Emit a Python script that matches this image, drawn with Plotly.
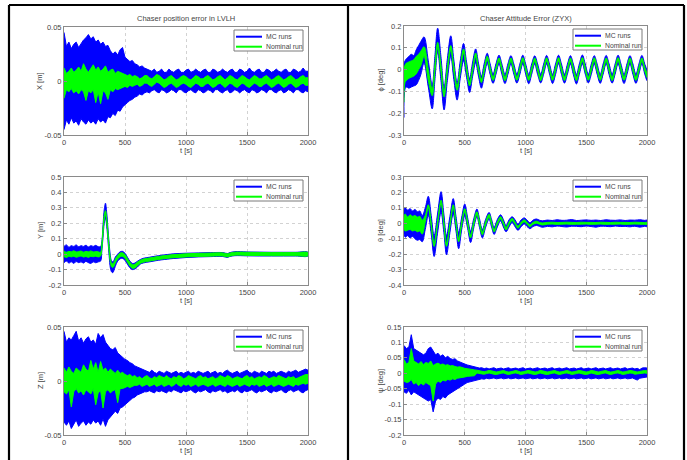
import plotly.graph_objects as go

# ---------------- data ----------------
T_TICKS = [0, 500, 1000, 1500, 2000]
T_TICK_TEXT = ["0", "500", "1000", "1500", "2000"]

# common 20 s time grid used by X, Z and psi
t20 = list(range(0, 2001, 20))

# --- X [m] ---
x_mc_hi = [0.045, 0.032, 0.036, 0.030, 0.034, 0.036, 0.031, 0.035, 0.038, 0.040,
           0.043, 0.039, 0.041, 0.036, 0.038, 0.034, 0.036, 0.032, 0.033, 0.028,
           0.025, 0.027, 0.024, 0.029, 0.031, 0.022, 0.020, 0.018, 0.019, 0.016,
           0.015, 0.013, 0.014, 0.012, 0.011, 0.010, 0.009, 0.011, 0.008, 0.009,
           0.011, 0.008, 0.008, 0.011, 0.009, 0.008, 0.010, 0.011, 0.008, 0.008,
           0.010, 0.011, 0.008, 0.009, 0.011, 0.009, 0.008, 0.010, 0.011, 0.008,
           0.008, 0.011, 0.010, 0.008, 0.009, 0.011, 0.009, 0.008, 0.010, 0.011,
           0.008, 0.008, 0.011, 0.010, 0.008, 0.009, 0.012, 0.009, 0.008, 0.010,
           0.011, 0.008, 0.008, 0.011, 0.010, 0.008, 0.009, 0.011, 0.009, 0.008,
           0.010, 0.011, 0.008, 0.008, 0.011, 0.010, 0.008, 0.009, 0.012, 0.009,
           0.009]
x_mc_lo = [-0.045, -0.036, -0.040, -0.034, -0.039, -0.037, -0.041, -0.035, -0.038, -0.040,
           -0.036, -0.039, -0.037, -0.040, -0.035, -0.038, -0.036, -0.039, -0.033, -0.034,
           -0.030, -0.032, -0.027, -0.028, -0.024, -0.022, -0.020, -0.018, -0.017, -0.015,
           -0.014, -0.012, -0.013, -0.011, -0.010, -0.011, -0.009, -0.008, -0.010, -0.011,
           -0.008, -0.009, -0.011, -0.010, -0.008, -0.009, -0.011, -0.008, -0.008, -0.010,
           -0.011, -0.009, -0.008, -0.010, -0.011, -0.008, -0.009, -0.011, -0.010, -0.008,
           -0.009, -0.011, -0.008, -0.008, -0.010, -0.011, -0.009, -0.008, -0.011, -0.010,
           -0.008, -0.009, -0.011, -0.009, -0.008, -0.010, -0.011, -0.008, -0.009, -0.011,
           -0.010, -0.008, -0.009, -0.011, -0.008, -0.008, -0.010, -0.011, -0.009, -0.008,
           -0.011, -0.010, -0.008, -0.009, -0.011, -0.008, -0.008, -0.010, -0.011, -0.009,
           -0.010]
x_nom_hi = [0.012, 0.007, 0.009, 0.012, 0.008, 0.010, 0.013, 0.009, 0.016, 0.011,
            0.008, 0.012, 0.015, 0.010, 0.013, 0.009, 0.011, 0.014, 0.008, 0.010,
            0.011, 0.007, 0.009, 0.008, 0.007, 0.006, 0.005, 0.006, 0.004, 0.005,
            0.004, 0.002, 0.003, 0.005, 0.005, 0.003, 0.002, 0.004, 0.006, 0.005,
            0.003, 0.001, 0.002, 0.004, 0.005, 0.003, 0.001, 0.002, 0.004, 0.005,
            0.004, 0.002, 0.001, 0.003, 0.005, 0.004, 0.002, 0.002, 0.004, 0.005,
            0.003, 0.001, 0.002, 0.004, 0.005, 0.003, 0.001, 0.003, 0.005, 0.004,
            0.002, 0.001, 0.003, 0.005, 0.004, 0.002, 0.001, 0.003, 0.005, 0.004,
            0.002, 0.002, 0.004, 0.005, 0.003, 0.001, 0.002, 0.004, 0.005, 0.003,
            0.001, 0.002, 0.004, 0.005, 0.003, 0.001, 0.002, 0.004, 0.005, 0.003,
            0.003]
x_nom_lo = [-0.016, -0.008, -0.010, -0.007, -0.011, -0.009, -0.012, -0.008, -0.010, -0.018,
            -0.009, -0.011, -0.008, -0.020, -0.010, -0.021, -0.009, -0.011, -0.017, -0.008,
            -0.010, -0.007, -0.008, -0.007, -0.006, -0.005, -0.006, -0.004, -0.005, -0.004,
            -0.003, -0.005, -0.004, -0.002, -0.002, -0.004, -0.005, -0.003, -0.001, -0.002,
            -0.004, -0.006, -0.005, -0.003, -0.002, -0.004, -0.006, -0.005, -0.003, -0.002,
            -0.003, -0.005, -0.006, -0.004, -0.002, -0.003, -0.005, -0.005, -0.003, -0.002,
            -0.004, -0.006, -0.005, -0.003, -0.002, -0.004, -0.006, -0.004, -0.002, -0.003,
            -0.005, -0.006, -0.004, -0.002, -0.003, -0.005, -0.006, -0.004, -0.002, -0.003,
            -0.005, -0.005, -0.003, -0.002, -0.004, -0.006, -0.005, -0.003, -0.002, -0.004,
            -0.006, -0.005, -0.003, -0.002, -0.004, -0.006, -0.005, -0.003, -0.002, -0.004,
            -0.004]

# --- Y [m] (non-uniform time grid around the transient) ---
t_y = [0, 20, 40, 60, 80, 100, 120, 140, 160, 180, 200, 220, 240, 260, 280, 300,
       310, 320, 330, 340, 350, 360, 370, 380, 390, 400, 410, 420,
       440, 460, 480, 500, 520, 540, 560, 580, 600,
       625, 650, 700, 750, 800, 900, 1000, 1100, 1200, 1300, 1340, 1360, 1400,
       1500, 1600, 1700, 1800, 1900, 2000]
y_mc_hi = [0.05, 0.06, 0.045, 0.055, 0.05, 0.06, 0.048, 0.055, 0.05, 0.058, 0.047, 0.055, 0.05, 0.057, 0.048, 0.05,
           0.08, 0.19, 0.29, 0.33, 0.27, 0.17, 0.07, -0.01, -0.045, -0.05, -0.04, -0.02,
           0.0, 0.015, 0.018, 0.005, -0.02, -0.045, -0.06, -0.058, -0.047,
           -0.035, -0.027, -0.02, -0.013, -0.007, 0.002, 0.006, 0.008, 0.01, 0.01, 0.004, 0.01, 0.016,
           0.014, 0.013, 0.012, 0.012, 0.012, 0.012]
y_mc_lo = [-0.055, -0.045, -0.058, -0.05, -0.06, -0.048, -0.055, -0.05, -0.058, -0.047, -0.055, -0.06, -0.05, -0.056, -0.05, -0.045,
           0.02, 0.11, 0.2, 0.23, 0.18, 0.09, -0.01, -0.09, -0.115, -0.12, -0.105, -0.08,
           -0.045, -0.03, -0.028, -0.04, -0.065, -0.088, -0.1, -0.097, -0.085,
           -0.065, -0.057, -0.05, -0.043, -0.037, -0.028, -0.022, -0.018, -0.016, -0.015, -0.021, -0.015, -0.01,
           -0.011, -0.012, -0.012, -0.012, -0.012, -0.012]
y_nom_hi = [0.02, 0.012, 0.018, 0.015, 0.022, 0.014, 0.017, 0.02, 0.013, 0.018, 0.015, 0.021, 0.014, 0.017, 0.015, 0.012,
            0.062, 0.162, 0.252, 0.282, 0.232, 0.142, 0.042, -0.028, -0.058, -0.063, -0.053, -0.033,
            -0.008, 0.007, 0.009, -0.003, -0.028, -0.053, -0.068, -0.066, -0.053,
            -0.04, -0.032, -0.025, -0.018, -0.012, -0.003, 0.002, 0.005, 0.007, 0.008, 0.002, 0.007, 0.013,
            0.012, 0.011, 0.01, 0.01, 0.01, 0.01]
y_nom_lo = [-0.015, -0.022, -0.013, -0.018, -0.014, -0.02, -0.016, -0.012, -0.019, -0.015, -0.021, -0.014, -0.017, -0.013, -0.018, -0.012,
            0.038, 0.138, 0.228, 0.258, 0.208, 0.118, 0.018, -0.052, -0.082, -0.087, -0.077, -0.057,
            -0.032, -0.017, -0.015, -0.027, -0.052, -0.077, -0.092, -0.09, -0.077,
            -0.06, -0.052, -0.045, -0.038, -0.032, -0.023, -0.018, -0.015, -0.013, -0.012, -0.018, -0.013, -0.007,
            -0.008, -0.009, -0.01, -0.01, -0.01, -0.01]

# --- Z [m] ---
z_mc_hi = [0.046, 0.036, 0.040, 0.038, 0.042, 0.046, 0.037, 0.040, 0.035, 0.039,
           0.041, 0.036, 0.038, 0.034, 0.044, 0.040, 0.043, 0.036, 0.033, 0.030,
           0.029, 0.031, 0.026, 0.024, 0.022, 0.020, 0.019, 0.017, 0.016, 0.014,
           0.013, 0.012, 0.011, 0.010, 0.009, 0.008, 0.010, 0.008, 0.007, 0.009,
           0.008, 0.007, 0.009, 0.008, 0.007, 0.008, 0.009, 0.007, 0.008, 0.007,
           0.008, 0.009, 0.007, 0.008, 0.007, 0.009, 0.008, 0.007, 0.008, 0.009,
           0.007, 0.008, 0.009, 0.007, 0.008, 0.007, 0.009, 0.010, 0.008, 0.007,
           0.008, 0.009, 0.007, 0.008, 0.009, 0.010, 0.008, 0.007, 0.009, 0.008,
           0.007, 0.009, 0.008, 0.007, 0.009, 0.008, 0.009, 0.007, 0.008, 0.009,
           0.008, 0.007, 0.009, 0.008, 0.009, 0.010, 0.008, 0.009, 0.010, 0.011,
           0.010]
z_mc_lo = [-0.038, -0.041, -0.037, -0.044, -0.040, -0.036, -0.042, -0.039, -0.037, -0.041,
           -0.038, -0.040, -0.036, -0.039, -0.037, -0.041, -0.035, -0.042, -0.036, -0.033,
           -0.031, -0.028, -0.030, -0.025, -0.024, -0.022, -0.020, -0.018, -0.016, -0.015,
           -0.013, -0.012, -0.011, -0.010, -0.010, -0.009, -0.010, -0.011, -0.009, -0.010,
           -0.009, -0.010, -0.011, -0.009, -0.010, -0.008, -0.009, -0.010, -0.011, -0.009,
           -0.010, -0.009, -0.008, -0.010, -0.011, -0.009, -0.010, -0.009, -0.008, -0.010,
           -0.011, -0.009, -0.010, -0.009, -0.008, -0.010, -0.009, -0.011, -0.010, -0.009,
           -0.010, -0.008, -0.010, -0.011, -0.009, -0.010, -0.009, -0.008, -0.010, -0.011,
           -0.009, -0.010, -0.009, -0.008, -0.010, -0.011, -0.009, -0.010, -0.009, -0.008,
           -0.010, -0.011, -0.009, -0.008, -0.010, -0.009, -0.008, -0.010, -0.011, -0.009,
           -0.008]
z_nom_hi = [0.012, 0.008, 0.013, 0.009, 0.007, 0.012, 0.010, 0.008, 0.015, 0.011,
            0.009, 0.019, 0.011, 0.017, 0.008, 0.018, 0.010, 0.012, 0.008, 0.011,
            0.009, 0.007, 0.010, 0.007, 0.008, 0.006, 0.005, 0.006, 0.004, 0.005,
            0.003, 0.004, 0.002, 0.004, 0.005, 0.003, 0.002, 0.004, 0.003, 0.005,
            0.004, 0.003, 0.005, 0.003, 0.002, 0.004, 0.003, 0.005, 0.004, 0.002,
            0.003, 0.005, 0.004, 0.003, 0.002, 0.004, 0.005, 0.003, 0.004, 0.002,
            0.003, 0.004, 0.002, 0.003, 0.005, 0.004, 0.003, 0.005, 0.004, 0.002,
            0.003, 0.004, 0.003, 0.002, 0.004, 0.005, 0.003, 0.004, 0.002, 0.003,
            0.004, 0.003, 0.005, 0.004, 0.002, 0.003, 0.004, 0.003, 0.005, 0.004,
            0.003, 0.002, 0.004, 0.003, 0.004, 0.002, 0.003, 0.004, 0.005, 0.006,
            0.006]
z_nom_lo = [-0.010, -0.012, -0.008, -0.024, -0.010, -0.007, -0.011, -0.009, -0.013, -0.008,
            -0.010, -0.012, -0.007, -0.022, -0.011, -0.009, -0.025, -0.010, -0.008, -0.011,
            -0.009, -0.008, -0.020, -0.007, -0.007, -0.006, -0.005, -0.006, -0.005, -0.004,
            -0.004, -0.003, -0.005, -0.004, -0.003, -0.005, -0.004, -0.003, -0.005, -0.004,
            -0.003, -0.005, -0.004, -0.003, -0.005, -0.004, -0.002, -0.004, -0.005, -0.003,
            -0.004, -0.003, -0.005, -0.004, -0.003, -0.005, -0.004, -0.003, -0.004, -0.005,
            -0.004, -0.003, -0.005, -0.004, -0.003, -0.004, -0.005, -0.003, -0.004, -0.005,
            -0.004, -0.003, -0.005, -0.004, -0.003, -0.004, -0.005, -0.003, -0.004, -0.003,
            -0.005, -0.004, -0.003, -0.005, -0.004, -0.003, -0.005, -0.004, -0.003, -0.004,
            -0.005, -0.004, -0.003, -0.004, -0.005, -0.003, -0.004, -0.003, -0.002, -0.003,
            -0.002]

# --- phi [deg] (extrema and mid-crossings) ---
t_phi = [0, 8, 20, 40, 60, 80, 100, 120, 140, 165,
         200, 232, 254, 277, 304, 330, 357, 385, 410, 437,
         463, 490, 515, 540, 565, 590, 613, 637, 661, 685,
         709, 733, 757, 782, 806, 831, 855, 880, 904, 929, 953, 978,
         1002, 1027, 1051, 1076, 1100, 1125, 1149, 1174, 1198, 1223, 1247, 1272,
         1296, 1321, 1345, 1370, 1394, 1419, 1443, 1468, 1492, 1517, 1541, 1566,
         1590, 1615, 1639, 1664, 1688, 1713, 1737, 1762, 1786, 1811, 1835, 1860,
         1884, 1909, 1933, 1958, 1982, 2000]
phi_mc_hi = [0.03, 0.04, 0.05, 0.06, 0.07, 0.065, 0.09, 0.11, 0.13, 0.15,
             0.04, -0.07, 0.06, 0.19, 0.06, -0.08, 0.05, 0.155, 0.045, -0.06,
             0.04, 0.12, 0.035, -0.04, 0.035, 0.095, 0.03, -0.03, 0.03, 0.075,
             0.026, -0.020, 0.027, 0.066, 0.025, -0.022, 0.026, 0.064, 0.026, -0.021, 0.025, 0.066,
             0.025, -0.022, 0.026, 0.063, 0.026, -0.021, 0.025, 0.065, 0.025, -0.022, 0.026, 0.066,
             0.026, -0.021, 0.025, 0.064, 0.025, -0.022, 0.026, 0.067, 0.026, -0.021, 0.025, 0.064,
             0.025, -0.022, 0.026, 0.065, 0.026, -0.021, 0.025, 0.066, 0.025, -0.022, 0.026, 0.064,
             0.026, -0.021, 0.025, 0.065, 0.025, -0.005]
phi_mc_lo = [-0.22, -0.09, -0.08, -0.085, -0.08, -0.075, -0.07, -0.05, -0.02, 0.03,
             -0.08, -0.18, -0.05, 0.08, -0.05, -0.185, -0.05, 0.06, -0.045, -0.14,
             -0.04, 0.04, -0.035, -0.105, -0.03, 0.03, -0.03, -0.085, -0.028, 0.028,
             -0.022, -0.063, -0.021, 0.026, -0.023, -0.064, -0.022, 0.025, -0.021, -0.062, -0.023, 0.027,
             -0.022, -0.065, -0.021, 0.025, -0.023, -0.061, -0.022, 0.026, -0.021, -0.064, -0.023, 0.027,
             -0.022, -0.062, -0.021, 0.025, -0.023, -0.066, -0.022, 0.026, -0.021, -0.061, -0.023, 0.025,
             -0.022, -0.063, -0.021, 0.027, -0.023, -0.062, -0.022, 0.026, -0.021, -0.064, -0.023, 0.025,
             -0.022, -0.063, -0.021, 0.026, -0.022, -0.05]
phi_nom_hi = [0.0, 0.02, 0.03, 0.035, 0.04, 0.045, 0.06, 0.07, 0.085, 0.105,
              0.0, -0.09, 0.02, 0.125, 0.02, -0.1, 0.015, 0.11, 0.015, -0.075,
              0.012, 0.095, 0.012, -0.055, 0.01, 0.076, 0.01, -0.043, 0.01, 0.062,
              0.010, -0.034, 0.010, 0.054, 0.010, -0.035, 0.010, 0.053, 0.010, -0.033, 0.010, 0.055,
              0.010, -0.034, 0.010, 0.053, 0.010, -0.035, 0.010, 0.054, 0.010, -0.033, 0.010, 0.055,
              0.010, -0.034, 0.010, 0.053, 0.010, -0.035, 0.010, 0.055, 0.010, -0.033, 0.010, 0.054,
              0.010, -0.034, 0.010, 0.053, 0.010, -0.035, 0.010, 0.055, 0.010, -0.033, 0.010, 0.054,
              0.010, -0.034, 0.010, 0.053, 0.010, -0.020]
phi_nom_lo = [-0.15, -0.06, -0.05, -0.04, -0.035, -0.03, -0.02, 0.0, 0.02, 0.06,
              -0.05, -0.12, -0.01, 0.1, -0.01, -0.125, -0.01, 0.09, -0.01, -0.095,
              -0.01, 0.075, -0.008, -0.075, -0.008, 0.058, -0.008, -0.06, -0.008, 0.045,
              -0.007, -0.050, -0.007, 0.038, -0.007, -0.051, -0.007, 0.037, -0.007, -0.049, -0.007, 0.039,
              -0.007, -0.050, -0.007, 0.037, -0.007, -0.051, -0.007, 0.038, -0.007, -0.049, -0.007, 0.039,
              -0.007, -0.050, -0.007, 0.037, -0.007, -0.051, -0.007, 0.039, -0.007, -0.049, -0.007, 0.038,
              -0.007, -0.050, -0.007, 0.037, -0.007, -0.051, -0.007, 0.039, -0.007, -0.049, -0.007, 0.038,
              -0.007, -0.050, -0.007, 0.037, -0.007, -0.036]

# --- theta [deg] ---
t_theta = [0, 10, 30, 50, 70, 90, 110, 130, 150, 175, 200, 224, 248, 276, 305, 328, 350, 378, 405,
           428, 450, 475, 500, 524, 548, 574, 600, 622, 645, 672, 700, 721, 742, 768, 795, 818, 840,
           865, 890, 914, 938, 964, 990, 1013, 1036, 1063, 1090, 1115, 1140,
           1180, 1220, 1260, 1300, 1340, 1380, 1420, 1460, 1500, 1540, 1580, 1620, 1660, 1700,
           1740, 1780, 1820, 1860, 1900, 1940, 1980, 2000]
theta_mc_hi = [0.09, 0.1, 0.085, 0.095, 0.08, 0.09, 0.075, 0.08, 0.05, 0.1, 0.175, 0.05, -0.08, 0.06, 0.205,
               0.06, -0.08, 0.045, 0.16, 0.045, -0.06, 0.04, 0.125, 0.035, -0.05, 0.03, 0.092, 0.028, -0.04,
               0.026, 0.07, 0.025, -0.025, 0.024, 0.055, 0.024, -0.015, 0.023, 0.042, 0.022, -0.005, 0.022,
               0.035, 0.021, 0.004, 0.021, 0.028, 0.02, 0.016,
               0.021, 0.018, 0.023, 0.019, 0.02, 0.024, 0.018, 0.02, 0.022, 0.019, 0.021, 0.018, 0.023,
               0.02, 0.019, 0.022, 0.018, 0.021, 0.02, 0.023, 0.019, 0.02]
theta_mc_lo = [-0.07, -0.09, -0.08, -0.095, -0.085, -0.1, -0.11, -0.105, -0.12, -0.04, 0.05, -0.07, -0.215,
               -0.065, 0.07, -0.06, -0.205, -0.06, 0.06, -0.05, -0.165, -0.04, 0.045, -0.035, -0.125, -0.03,
               0.04, -0.028, -0.095, -0.026, 0.026, -0.025, -0.072, -0.024, 0.015, -0.024, -0.055, -0.023,
               0.005, -0.022, -0.045, -0.022, -0.005, -0.021, -0.035, -0.021, -0.014, -0.02, -0.026,
               -0.02, -0.023, -0.018, -0.021, -0.024, -0.019, -0.02, -0.022, -0.018, -0.021, -0.025,
               -0.019, -0.02, -0.022, -0.018, -0.021, -0.02, -0.023, -0.019, -0.025, -0.02, -0.021]
theta_nom_hi = [0.05, 0.06, 0.04, 0.055, 0.045, 0.05, 0.04, 0.045, 0.02, 0.05, 0.12, 0.0, -0.13, 0.01, 0.15,
                0.01, -0.13, 0.0, 0.12, 0.01, -0.1, 0.01, 0.095, 0.01, -0.075, 0.01, 0.075, 0.01, -0.055,
                0.01, 0.058, 0.008, -0.04, 0.008, 0.043, 0.008, -0.027, 0.008, 0.032, 0.007, -0.018, 0.007,
                0.023, 0.006, -0.009, 0.006, 0.014, 0.006, 0.002,
                0.006, 0.007, 0.005, 0.006, 0.007, 0.006, 0.005, 0.007, 0.006, 0.006, 0.005, 0.007, 0.006,
                0.005, 0.007, 0.006, 0.006, 0.005, 0.007, 0.006, 0.005, 0.006]
theta_nom_lo = [-0.04, -0.05, -0.045, -0.04, -0.05, -0.045, -0.055, -0.05, -0.07, 0.01, 0.1, -0.02, -0.15,
                -0.01, 0.13, -0.01, -0.15, -0.02, 0.1, -0.01, -0.12, -0.01, 0.075, -0.01, -0.095, -0.01,
                0.055, -0.01, -0.075, -0.01, 0.038, -0.008, -0.056, -0.008, 0.027, -0.008, -0.043, -0.008,
                0.018, -0.007, -0.032, -0.007, 0.009, -0.007, -0.023, -0.007, 0.001, -0.006, -0.011,
                -0.006, -0.005, -0.007, -0.006, -0.005, -0.007, -0.006, -0.006, -0.005, -0.007, -0.006,
                -0.005, -0.007, -0.006, -0.006, -0.005, -0.007, -0.006, -0.005, -0.006, -0.007, -0.006]

# --- psi [deg] ---
psi_mc_hi = [0.09, 0.08, 0.085, 0.125, 0.08, 0.075, 0.07, 0.065, 0.06, 0.065,
             0.08, 0.085, 0.07, 0.06, 0.065, 0.055, 0.06, 0.05, 0.055, 0.048,
             0.045, 0.047, 0.04, 0.036, 0.033, 0.03, 0.027, 0.025, 0.022, 0.021,
             0.019, 0.017, 0.018, 0.015, 0.017, 0.014, 0.016, 0.018, 0.014, 0.015,
             0.017, 0.014, 0.016, 0.018, 0.014, 0.015, 0.017, 0.014, 0.016, 0.018,
             0.014, 0.015, 0.017, 0.014, 0.016, 0.018, 0.014, 0.015, 0.017, 0.014,
             0.016, 0.018, 0.014, 0.015, 0.017, 0.014, 0.016, 0.018, 0.014, 0.015,
             0.017, 0.014, 0.016, 0.018, 0.014, 0.015, 0.017, 0.014, 0.016, 0.018,
             0.014, 0.015, 0.017, 0.014, 0.016, 0.018, 0.014, 0.015, 0.017, 0.014,
             0.016, 0.018, 0.014, 0.015, 0.017, 0.014, 0.016, 0.012, 0.017, 0.018,
             0.017]
psi_mc_lo = [-0.06, -0.065, -0.055, -0.07, -0.06, -0.065, -0.07, -0.075, -0.08, -0.085,
             -0.09, -0.085, -0.125, -0.09, -0.08, -0.085, -0.075, -0.08, -0.07, -0.065,
             -0.06, -0.055, -0.05, -0.045, -0.04, -0.035, -0.03, -0.028, -0.025, -0.023,
             -0.021, -0.02, -0.018, -0.019, -0.016, -0.018, -0.017, -0.015, -0.018, -0.016,
             -0.015, -0.018, -0.016, -0.015, -0.018, -0.017, -0.015, -0.018, -0.016, -0.015,
             -0.018, -0.017, -0.015, -0.018, -0.016, -0.015, -0.018, -0.017, -0.015, -0.018,
             -0.016, -0.015, -0.018, -0.017, -0.015, -0.018, -0.016, -0.015, -0.018, -0.017,
             -0.015, -0.018, -0.016, -0.015, -0.018, -0.017, -0.015, -0.018, -0.016, -0.015,
             -0.018, -0.017, -0.015, -0.018, -0.016, -0.015, -0.018, -0.017, -0.015, -0.018,
             -0.016, -0.015, -0.018, -0.017, -0.015, -0.018, -0.022, -0.016, -0.015, -0.013,
             -0.012]
psi_nom_hi = [0.045, 0.03, 0.035, 0.08, 0.04, 0.035, 0.03, 0.038, 0.028, 0.035,
              0.032, 0.04, 0.025, 0.03, 0.033, 0.028, 0.03, 0.026, 0.028, 0.024,
              0.025, 0.022, 0.02, 0.021, 0.018, 0.016, 0.015, 0.013, 0.012, 0.011,
              0.01, 0.008, 0.006, 0.005, 0.007, 0.009, 0.008, 0.005, 0.004, 0.006,
              0.008, 0.009, 0.006, 0.004, 0.005, 0.008, 0.009, 0.007, 0.004, 0.005,
              0.007, 0.009, 0.008, 0.005, 0.004, 0.006, 0.009, 0.008, 0.005, 0.004,
              0.006, 0.008, 0.009, 0.006, 0.004, 0.005, 0.008, 0.009, 0.007, 0.004,
              0.005, 0.007, 0.009, 0.008, 0.005, 0.004, 0.006, 0.009, 0.008, 0.005,
              0.004, 0.006, 0.008, 0.009, 0.006, 0.004, 0.005, 0.008, 0.009, 0.007,
              0.004, 0.005, 0.007, 0.009, 0.008, 0.005, 0.004, 0.006, 0.008, 0.009,
              0.008]
psi_nom_lo = [-0.025, -0.03, -0.028, -0.02, -0.035, -0.03, -0.04, -0.032, -0.038, -0.03,
              -0.035, -0.04, -0.09, -0.035, -0.025, -0.03, -0.022, -0.025, -0.02, -0.022,
              -0.018, -0.02, -0.016, -0.015, -0.013, -0.012, -0.01, -0.009, -0.008, -0.008,
              0.001, 0.0, -0.002, -0.003, -0.001, 0.001, 0.0, -0.003, -0.004, -0.002,
              0.0, 0.001, -0.002, -0.004, -0.003, 0.0, 0.001, -0.001, -0.004, -0.003,
              -0.001, 0.001, 0.0, -0.003, -0.004, -0.002, 0.001, 0.0, -0.003, -0.004,
              -0.002, 0.0, 0.001, -0.002, -0.004, -0.003, 0.0, 0.001, -0.001, -0.004,
              -0.003, -0.001, 0.001, 0.0, -0.003, -0.004, -0.002, 0.001, 0.0, -0.003,
              -0.004, -0.002, 0.0, 0.001, -0.002, -0.004, -0.003, 0.0, 0.001, -0.001,
              -0.004, -0.003, -0.001, 0.001, 0.0, -0.003, -0.004, -0.002, 0.0, 0.001,
              0.0]

# y-axis ticks
ticks_xz = [-0.05, 0, 0.05]
ticks_xz_text = ["-0.05", "0", "0.05"]
ticks_phi = [-0.3, -0.2, -0.1, 0, 0.1, 0.2]
ticks_phi_text = ["-0.3", "-0.2", "-0.1", "0", "0.1", "0.2"]
ticks_y = [-0.2, -0.1, 0, 0.1, 0.2, 0.3, 0.4, 0.5]
ticks_y_text = ["-0.2", "-0.1", "0", "0.1", "0.2", "0.3", "0.4", "0.5"]
ticks_theta = [-0.4, -0.3, -0.2, -0.1, 0, 0.1, 0.2, 0.3]
ticks_theta_text = ["-0.4", "-0.3", "-0.2", "-0.1", "0", "0.1", "0.2", "0.3"]
ticks_psi = [-0.2, -0.15, -0.1, -0.05, 0, 0.05, 0.1, 0.15]
ticks_psi_text = ["-0.2", "-0.15", "-0.1", "-0.05", "0", "0.05", "0.1", "0.15"]

legend_labels = ["MC runs", "Nominal run"]
titles = ["Chaser position error in LVLH", "Chaser Attitude Error (ZYX)"]

# ---------------- figure ----------------
W, H = 687, 460
BLUE = "rgb(0,0,255)"
GREEN = "rgb(0,255,0)"
FONT = "Liberation Sans, Arial, sans-serif"
TXT = "#454545"


def px(x):
    return x / W


def py(y):
    return 1 - y / H


panels = [
    (t20, x_mc_hi, x_mc_lo, x_nom_hi, x_nom_lo, [-0.05, 0.05], ticks_xz, ticks_xz_text, "X [m]", (64, 308, 27, 135), "linear"),
    (t_phi, phi_mc_hi, phi_mc_lo, phi_nom_hi, phi_nom_lo, [-0.3, 0.2], ticks_phi, ticks_phi_text, "ϕ [deg]", (404, 647, 26, 135), "spline"),
    (t_y, y_mc_hi, y_mc_lo, y_nom_hi, y_nom_lo, [-0.2, 0.5], ticks_y, ticks_y_text, "Y [m]", (64, 308, 177, 285), "spline"),
    (t_theta, theta_mc_hi, theta_mc_lo, theta_nom_hi, theta_nom_lo, [-0.4, 0.3], ticks_theta, ticks_theta_text, "θ [deg]", (404, 647, 177, 285), "spline"),
    (t20, z_mc_hi, z_mc_lo, z_nom_hi, z_nom_lo, [-0.05, 0.05], ticks_xz, ticks_xz_text, "Z [m]", (64, 308, 327, 435), "linear"),
    (t20, psi_mc_hi, psi_mc_lo, psi_nom_hi, psi_nom_lo, [-0.2, 0.15], ticks_psi, ticks_psi_text, "ψ [deg]", (404, 647, 327, 435), "linear"),
]

fig = go.Figure()
shapes = []
annotations = []
layout = {}


def band(t, hi, lo, color, k, shape):
    return go.Scatter(
        x=list(t) + list(t)[::-1], y=list(hi) + list(lo)[::-1],
        fill="toself", fillcolor=color, mode="lines",
        line=dict(color=color, width=1, shape=shape),
        hoverinfo="skip", showlegend=False,
        xaxis="x" + ("" if k == 1 else str(k)), yaxis="y" + ("" if k == 1 else str(k)),
    )


for i, (t, mh, ml, nh, nl, yr, tv, tt, ylab, (l, r, top, bot), shape) in enumerate(panels):
    k = i + 1
    fig.add_trace(band(t, mh, ml, BLUE, k, shape))
    fig.add_trace(band(t, nh, nl, GREEN, k, shape))
    suf = "" if k == 1 else str(k)
    common = dict(
        showline=True, mirror=True, linecolor="#8a8a8a", linewidth=1,
        ticks="inside", ticklen=3, tickcolor="#8a8a8a",
        showgrid=True, gridcolor="#d2d2d2", griddash="dot", gridwidth=1,
        zeroline=False, tickfont=dict(family=FONT, size=7.5, color=TXT),
        automargin=False,
    )
    layout["xaxis" + suf] = dict(common, domain=[px(l), px(r)], anchor="y" + suf,
                                 range=[0, 2000], tickvals=T_TICKS, ticktext=T_TICK_TEXT)
    layout["yaxis" + suf] = dict(common, domain=[py(bot), py(top)], anchor="x" + suf,
                                 range=yr, tickvals=tv, ticktext=tt)
    annotations.append(dict(text="t [s]", x=px((l + r) / 2), y=py(bot + 15), xref="paper", yref="paper",
                            showarrow=False, font=dict(family=FONT, size=7.5, color=TXT),
                            xanchor="center", yanchor="middle"))
    annotations.append(dict(text=ylab, x=px(l - 24), y=py((top + bot) / 2), xref="paper", yref="paper",
                            showarrow=False, textangle=-90, font=dict(family=FONT, size=7.5, color=TXT),
                            xanchor="center", yanchor="middle"))
    # legend box (drawn by hand to match the small MATLAB legend)
    shapes.append(dict(type="rect", xref="paper", yref="paper",
                       x0=px(r - 74), x1=px(r - 5), y0=py(top + 3), y1=py(top + 24),
                       line=dict(color="#7a7a7a", width=1), fillcolor="white", layer="above"))
    for j, (col, lab) in enumerate(zip([BLUE, GREEN], legend_labels)):
        yy = top + 9.7 + 10 * j
        shapes.append(dict(type="line", xref="paper", yref="paper",
                           x0=px(r - 72), x1=px(r - 46), y0=py(yy), y1=py(yy),
                           line=dict(color=col, width=2), layer="above"))
        annotations.append(dict(text=lab, x=px(r - 44.5), y=py(yy), xref="paper", yref="paper",
                                showarrow=False, font=dict(family=FONT, size=6.8, color=TXT),
                                xanchor="left", yanchor="middle"))

annotations.append(dict(text=titles[0], x=px(186), y=py(19), xref="paper", yref="paper", showarrow=False,
                        font=dict(family=FONT, size=7.5, color=TXT), xanchor="center", yanchor="middle"))
annotations.append(dict(text=titles[1], x=px(525.5), y=py(18), xref="paper", yref="paper", showarrow=False,
                        font=dict(family=FONT, size=7.5, color=TXT), xanchor="center", yanchor="middle"))

for (x0, y0, x1, y1) in [(9, 5, 684, 5), (9, 5, 9, 462), (684, 5, 684, 462), (348, 5, 348, 462)]:
    shapes.append(dict(type="line", xref="paper", yref="paper", x0=px(x0), y0=py(y0), x1=px(x1), y1=py(y1),
                       line=dict(color="black", width=2.2), layer="above"))

fig.update_layout(
    width=W, height=H, margin=dict(l=0, r=0, t=0, b=0),
    paper_bgcolor="white", plot_bgcolor="white", showlegend=False,
    shapes=shapes, annotations=annotations, **layout,
)

fig.write_html("out.html")
